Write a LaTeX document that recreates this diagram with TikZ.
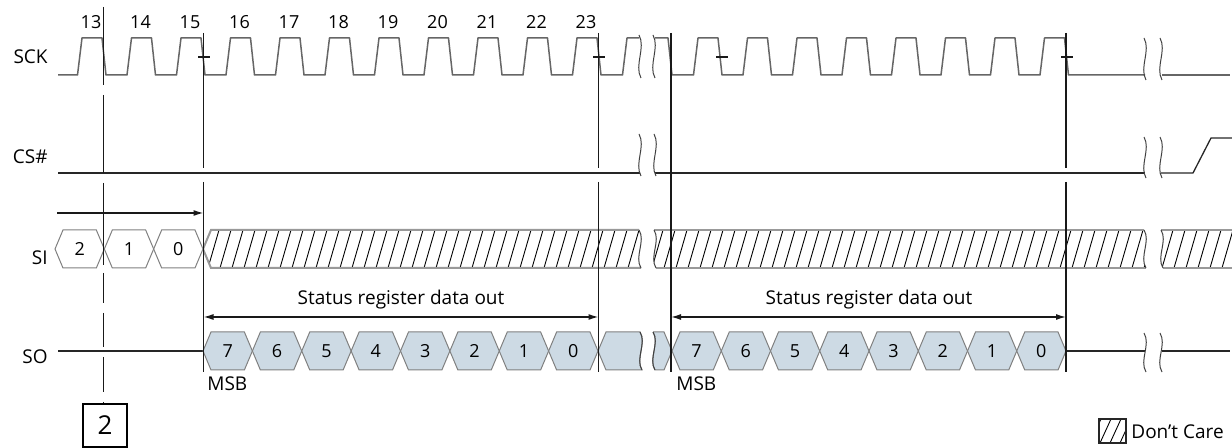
\documentclass[tikz,border=0pt]{standalone}
\usepackage{fontspec}
\setmainfont{Open Sans}
\usepackage{xcolor}
\usepackage{tikz}
\usetikzlibrary{arrows.meta}

\definecolor{sofill}{RGB}{205,218,228}

\tikzset{
  sck/.style={black!60, line width=0.75pt, line join=round},
  sig/.style={black!85, line width=0.65pt},
  guide/.style={black!90, line width=0.7pt},
  hexcell/.style={draw=black!50, line width=0.5pt},
  hatchline/.style={black, line width=0.45pt},
  bandedge/.style={black!40, line width=1pt},
  brk/.style={black!75, line width=0.5pt},
  lbl/.style={font=\fontsize{9.5}{11}\selectfont, inner sep=0pt},
  num/.style={font=\fontsize{9}{10}\selectfont, inner sep=0pt},
  >={Latex[length=5pt,width=3pt]}
}

% break mark: x, top y, bottom y
\newcommand{\sigbrk}[3]{\draw[brk] (#1-1,#2) .. controls (#1+6,#2+0.3*#3-0.3*#2) and (#1-6,#2+0.7*#3-0.7*#2) .. (#1+1,#3);}

\begin{document}
\begin{tikzpicture}[x=0.5pt,y=-0.5pt]
    \useasboundingbox (0,0) rectangle (1232,448);

    % Signal names
    \node[lbl, anchor=east] (sck) at (48,57) {SCK};
    \node[lbl, anchor=east] (cs) at (48,157) {CS\#};
    \node[lbl, anchor=east] (si) at (48,258) {SI};
    \node[lbl, anchor=east] (so) at (48,357) {SO};

    % Clock numbers
    \foreach \n in {13,...,23}
        \node[num] (clk\n) at ({91+49.5*(\n-13)},22) {\n};

    % SCK
    \draw[sck] (58,75) \foreach \k in {0,...,10} { -- ({77.5+49.5*\k},75) -- ({82+49.5*\k},38) -- ({102+49.5*\k},38) -- ({106+49.5*\k},75) } -- (622.5,75) -- (627,38) -- (639,38);
    \draw[sck] (655,38) -- (668,38) -- (672,75) \foreach \k in {0,...,7} { -- ({693.5+49.5*\k},75) -- ({698+49.5*\k},38) -- ({718+49.5*\k},38) -- ({722+49.5*\k},75) } -- (1145,75);
    \draw[sck] (1162,75) -- (1230,75);
    \sigbrk{640}{35}{78}
    \sigbrk{654}{35}{78}
    \sigbrk{1145}{38}{80}
    \sigbrk{1161}{38}{80}
    \foreach \t in {204,599,722,1067}
        \draw[guide] (\t-6,57) -- (\t+6,57);

    % CS#
    \draw[sig] (58,173) -- (640,173);
    \draw[sig] (655,173) -- (1145,173);
    \draw[sig] (1161,173) -- (1193,173) -- (1211,138) -- (1232,138);
    \sigbrk{640}{134}{176}
    \sigbrk{655}{134}{176}
    \sigbrk{1145}{137}{178}
    \sigbrk{1161}{137}{178}

    % SI bits
    \foreach \v [count=\i from 0] in {2,1,0} {
        \pgfmathsetmacro{\a}{55+49.33*\i}
        \draw[hexcell] (\a,249) -- (\a+8,230) -- (\a+41.33,230) -- (\a+49.33,249) -- (\a+41.33,268) -- (\a+8,268) -- cycle;
        \node[num] (si\v) at (\a+24.67,249) {\v};
    }

    % SI don't care bands
    \begin{scope}
        \clip (203,249) -- (211,230) -- (639,230) .. controls (646,241) and (634,257) .. (641,268) -- (211,268) -- cycle;
        \foreach \h in {196,208,...,650}
            \draw[hatchline] (\h,268) -- (\h+11,230);
    \end{scope}
    \draw[bandedge] (639,230) -- (211,230) -- (203,249) -- (211,268) -- (641,268);
    \draw[brk] (639,230) .. controls (646,241) and (634,257) .. (641,268);

    \begin{scope}
        \clip (654,230) .. controls (661,241) and (649,257) .. (656,268) -- (1146,268) .. controls (1139,257) and (1151,241) .. (1144,230) -- cycle;
        \foreach \h in {640,652,...,1150}
            \draw[hatchline] (\h,268) -- (\h+11,230);
    \end{scope}
    \draw[bandedge] (654,230) -- (1144,230) (656,268) -- (1146,268);
    \draw[brk] (654,230) .. controls (661,241) and (649,257) .. (656,268);
    \draw[brk] (1144,230) .. controls (1151,241) and (1139,257) .. (1146,268);

    \begin{scope}
        \clip (1161,230) .. controls (1168,241) and (1156,257) .. (1163,268) -- (1232,268) -- (1232,230) -- cycle;
        \foreach \h in {1150,1162,...,1232}
            \draw[hatchline] (\h,268) -- (\h+11,230);
    \end{scope}
    \draw[bandedge] (1161,230) -- (1232,230) (1163,268) -- (1232,268);
    \draw[brk] (1161,230) .. controls (1168,241) and (1156,257) .. (1163,268);

    % SO
    \draw[sig] (58,351) -- (203,351);
    \foreach \v [count=\i from 0] in {7,6,...,0} {
        \pgfmathsetmacro{\a}{203+49.375*\i}
        \draw[hexcell, fill=sofill] (\a,351) -- (\a+8,332) -- (\a+41.375,332) -- (\a+49.375,351) -- (\a+41.375,370) -- (\a+8,370) -- cycle;
        \node[num] (so\v) at (\a+24.69,351) {\v};
    }
    \draw[hexcell, fill=sofill] (598,351) -- (606,332) -- (640,332) .. controls (647,343) and (635,359) .. (642,370) -- (606,370) -- cycle;
    \draw[brk] (640,332) .. controls (647,343) and (635,359) .. (642,370);
    \draw[hexcell, fill=sofill] (653,332) -- (664,332) -- (672,351) -- (664,370) -- (655,370) .. controls (648,359) and (660,343) .. (653,332);
    \draw[brk] (653,332) .. controls (660,343) and (648,359) .. (655,370);
    \foreach \v [count=\i from 0] in {7,6,...,0} {
        \pgfmathsetmacro{\a}{672+49.25*\i}
        \draw[hexcell, fill=sofill] (\a,351) -- (\a+8,332) -- (\a+41.25,332) -- (\a+49.25,351) -- (\a+41.25,370) -- (\a+8,370) -- cycle;
        \node[num] (sob\v) at (\a+24.62,351) {\v};
    }
    \draw[sig] (1066,351) -- (1145,351);
    \draw[sig] (1162,351) -- (1230,351);
    \sigbrk{1145}{333}{372}
    \sigbrk{1161}{333}{372}

    \node[lbl, anchor=west] (msb1) at (207,384) {MSB};
    \node[lbl, anchor=west] (msb2) at (676,384) {MSB};

    % Timing guides
    \draw[guide] (203.5,33) -- (203.5,168) (203.5,182) -- (203.5,372);
    \draw[guide] (598.5,33) -- (598.5,168) (598.5,182) -- (598.5,372);
    \draw[guide] (671,33) -- (671,372);
    \draw[guide] (1066,33) -- (1066,168) (1066,182) -- (1066,372);
    \foreach \p/\q in {7/85, 95/173, 183/265, 273/303, 313/347, 357/392, 402/404}
        \draw[guide] (103.5,\p) -- (103.5,\q);

    % Arrows
    \coordinate (setup0) at (57,213);
    \coordinate (setup1) at (203.5,213);
    \draw[guide, ->] (setup0) -- (setup1);
    \coordinate (out0) at (203.5,317);
    \coordinate (out1) at (598.5,317);
    \coordinate (out2) at (671,317);
    \coordinate (out3) at (1066,317);
    \draw[guide, <->] (out0) -- (out1);
    \draw[guide, <->] (out2) -- (out3);
    \node[lbl] (stat1) at (401,300) {Status register data out};
    \node[lbl] (stat2) at (869,300) {Status register data out};

    % Note box
    \node[draw, line width=0.6pt, minimum width=22pt, minimum height=21.5pt, inner sep=0pt, font=\fontsize{13}{14}\selectfont] (note2) at (105,425.5) {2};

    % Legend
    \begin{scope}
        \clip (1099,419) rectangle (1126,443);
        \foreach \h in {1090,1100,...,1130}
            \draw[hatchline] (\h,443) -- (\h+11,419);
    \end{scope}
    \draw[black!85, line width=0.6pt] (1099,419) rectangle (1126,443);
    \node[lbl, anchor=west] (dc) at (1131,432) {Don’t Care};
\end{tikzpicture}
\end{document}
